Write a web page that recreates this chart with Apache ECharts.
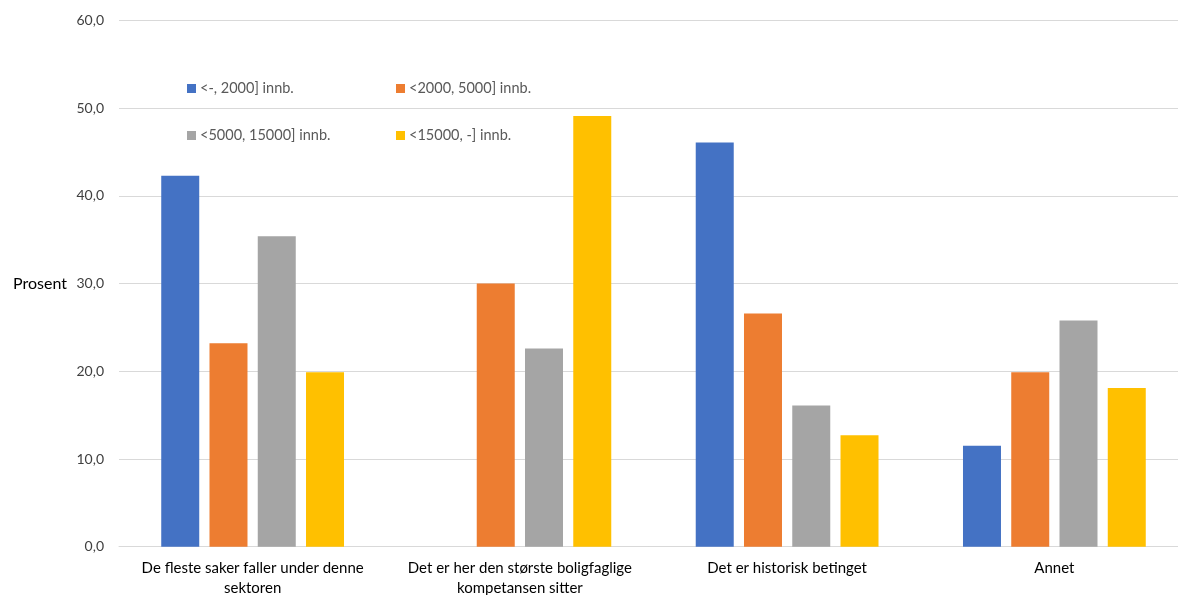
<!DOCTYPE html>
<html><head><meta charset="utf-8">
<script src="https://cdn.jsdelivr.net/npm/echarts@6/dist/echarts.min.js"></script>
<style>html,body{margin:0;padding:0;background:#fff;overflow:hidden}#c{width:1178px;height:595px}</style>
</head><body><div id="c"></div>
<script>
const categories = ['De fleste saker faller under denne\nsektoren', 'Det er her den største boligfaglige\nkompetansen sitter', 'Det er historisk betinget', 'Annet'];
const seriesNames = ['<-, 2000] innb.', '<2000, 5000] innb.', '<5000, 15000] innb.', '<15000, -] innb.'];
const s1 = [42.3, 0, 46.1, 11.5];
const s2 = [23.2, 30.0, 26.6, 19.9];
const s3 = [35.4, 22.6, 16.1, 25.8];
const s4 = [19.9, 49.1, 12.7, 18.1];
const yTicks = {min: 0, max: 60, interval: 10};
const colors = ['#4472C4', '#ED7D31', '#A5A5A5', '#FFC000'];
const font = 'Lato, "Open Sans", sans-serif';

const chart = echarts.init(document.getElementById('c'), null, {width: 1178, height: 595});
const values = [s1, s2, s3, s4];
const legendPos = [[182, 76], [391, 76], [182, 123], [391, 123]];
chart.setOption({
  animation: false,
  grid: {left: 119, width: 1069, top: 20.5, height: 526.2, containLabel: false, outerBoundsMode: 'none'},
  legend: legendPos.map((p, i) => ({
    data: [seriesNames[i]], left: p[0], top: p[1], itemWidth: 9, itemHeight: 9, itemGap: 5,
    icon: 'rect', textStyle: {color: '#595959', fontSize: 14.5, fontFamily: font, padding: [0, 0, 0, -1]}
  })),
  xAxis: {
    type: 'category', data: categories,
    axisLine: {lineStyle: {color: '#d9d9d9', width: 1}},
    axisTick: {show: false},
    axisLabel: {color: '#000', fontSize: 15, fontFamily: font, margin: 11, lineHeight: 20, interval: 0}
  },
  yAxis: {
    type: 'value', min: yTicks.min, max: yTicks.max, interval: yTicks.interval,
    name: 'Prosent', nameLocation: 'middle', nameRotate: 0, nameGap: 52,
    nameTextStyle: {color: '#000', fontSize: 16, fontFamily: font, align: 'right'},
    axisLine: {show: false}, axisTick: {show: false},
    axisLabel: {color: '#404040', fontSize: 14, fontFamily: font, margin: 15,
      formatter: v => v.toFixed(1).replace('.', ',')},
    splitLine: {lineStyle: {color: '#d9d9d9', width: 1}}
  },
  series: values.map((v, i) => ({
    name: seriesNames[i], type: 'bar', data: v, barWidth: 38, barGap: '27%',
    itemStyle: {color: colors[i]}
  }))
});
</script></body></html>
